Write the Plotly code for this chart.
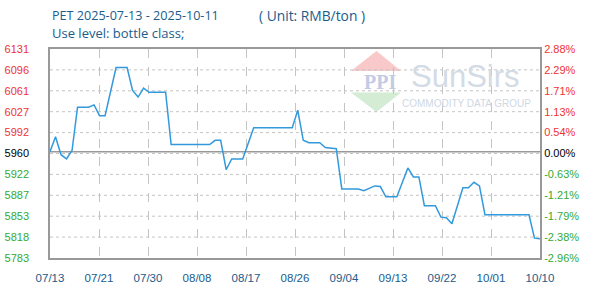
import plotly.graph_objects as go
import pandas as pd
import numpy as np

# ---- data ----
dates = ["2025-07-13", "2025-07-14", "2025-07-15", "2025-07-16", "2025-07-17", "2025-07-18",
         "2025-07-20", "2025-07-21", "2025-07-22", "2025-07-23", "2025-07-25", "2025-07-27",
         "2025-07-28", "2025-07-29", "2025-07-30", "2025-07-31", "2025-08-03", "2025-08-04",
         "2025-08-11", "2025-08-12", "2025-08-13", "2025-08-14", "2025-08-15", "2025-08-17",
         "2025-08-19", "2025-08-26", "2025-08-27", "2025-08-28", "2025-08-29", "2025-08-31",
         "2025-09-01", "2025-09-03", "2025-09-04", "2025-09-07", "2025-09-08", "2025-09-10",
         "2025-09-11", "2025-09-12", "2025-09-14", "2025-09-16", "2025-09-17", "2025-09-18",
         "2025-09-19", "2025-09-21", "2025-09-22", "2025-09-23", "2025-09-24", "2025-09-26",
         "2025-09-27", "2025-09-28", "2025-09-29", "2025-09-30", "2025-10-08", "2025-10-09",
         "2025-10-10"]
prices = [5960, 5985, 5955, 5948, 5962, 6034,
          6034, 6038, 6020, 6020, 6100, 6100,
          6062, 6051, 6066, 6059, 6059, 5972,
          5972, 5979, 5979, 5930, 5948, 5948,
          6000, 6000, 6029, 5979, 5975, 5975,
          5967, 5965, 5898, 5898, 5895, 5903,
          5902, 5885, 5885, 5933, 5918, 5918,
          5870, 5870, 5851, 5850, 5840, 5900,
          5900, 5909, 5903, 5855, 5855, 5816,
          5815]

base_value = 5960
y_min, y_max = 5783, 6131
left_labels = ["5783", "5818", "5853", "5887", "5922", "5960", "5992", "6027", "6061", "6096", "6131"]
right_labels = ["-2.96%", "-2.38%", "-1.79%", "-1.21%", "-0.63%", "0.00%", "0.54%", "1.13%", "1.71%", "2.29%", "2.88%"]
x_labels = ["07/13", "07/21", "07/30", "08/08", "08/17", "08/26", "09/04", "09/13", "09/22", "10/01", "10/10"]
x_start, x_end = "2025-07-13", "2025-10-10"

title_main = "PET 2025-07-13 - 2025-10-11"
title_unit = "( Unit: RMB/ton )"
title2 = "Use level: bottle class;"

RED = "#ee3333"
GREEN = "#33aa33"
BLACK = "#000000"
BLUE_TXT = "#1a5c8c"
GRID = "#c4c4c4"
FRAME = "#999999"
TICKFONT = "Liberation Sans"


def colored(labels):
    out = []
    n = len(labels)
    mid = n // 2
    for i, t in enumerate(labels):
        c = GREEN if i < mid else (BLACK if i == mid else RED)
        out.append(f"<span style='color:{c}'>{t}</span>")
    return out


yticks = list(np.linspace(y_min, y_max, len(left_labels)))
t0 = pd.Timestamp(x_start)
t1 = pd.Timestamp(x_end)
span = (t1 - t0) / (len(x_labels) - 1)
xticks = [t0 + span * k for k in range(len(x_labels))]

fig = go.Figure()
# horizontal dashed grid lines as traces
for yv in yticks[1:-1]:
    fig.add_trace(go.Scatter(x=[t0, t1], y=[yv, yv], mode="lines",
                             line=dict(color=GRID, width=1, dash="3px,3px"),
                             hoverinfo="skip", showlegend=False))
# base line
fig.add_trace(go.Scatter(x=[t0, t1], y=[base_value, base_value], mode="lines",
                         line=dict(color=FRAME, width=1.5), hoverinfo="skip", showlegend=False))
fig.add_trace(go.Scatter(x=dates, y=prices, mode="lines",
                         line=dict(color="#3399dd", width=1.5), hoverinfo="skip",
                         showlegend=False))
fig.add_trace(go.Scatter(x=[dates[0]], y=[prices[0]], yaxis="y2", mode="lines",
                         line=dict(width=0), showlegend=False, hoverinfo="skip"))

W, H = 591, 287
L, R, T, B = 50, 51, 49, 29
pw, ph = W - L - R, H - T - B


def px(xp):
    return (xp - L) / pw


def py(yp):
    return (H - B - yp) / ph


shapes = []
# watermark: pink triangle, green triangle
shapes.append(dict(type="path", xref="paper", yref="paper", layer="below",
                   path=f"M {px(376.5)},{py(51)} L {px(351)},{py(71)} L {px(401)},{py(71)} Z",
                   fillcolor="#f9c8c8", line=dict(width=0)))
shapes.append(dict(type="path", xref="paper", yref="paper", layer="below",
                   path=f"M {px(351)},{py(92.5)} L {px(401)},{py(92.5)} L {px(376.5)},{py(112)} Z",
                   fillcolor="#d3ecd3", line=dict(width=0)))

annotations = [
    dict(text=title_main, xref="paper", yref="paper", x=0, y=py(15), xanchor="left", yanchor="middle",
         showarrow=False, font=dict(family="Open Sans", size=12.6, color=BLUE_TXT)),
    dict(text=title_unit, xref="paper", yref="paper", x=px(257), y=py(15), xanchor="left",
         yanchor="middle", showarrow=False,
         font=dict(family="Open Sans", size=13.8, color=BLUE_TXT)),
    dict(text=title2, xref="paper", yref="paper", x=0, y=py(33), xanchor="left", yanchor="middle",
         showarrow=False, font=dict(family="Open Sans", size=13, color=BLUE_TXT)),
    dict(text="<b>PPI</b>", xref="paper", yref="paper", x=px(380), y=py(82), xanchor="center",
         yanchor="middle", showarrow=False,
         font=dict(family="Liberation Serif", size=20, color="#c3cbe4")),
    dict(text="SunSirs", xref="paper", yref="paper", x=px(465), y=py(76), xanchor="center",
         yanchor="middle", showarrow=False,
         font=dict(family="Liberation Sans", size=31, color="#d3dbe5")),
    dict(text="COMMODITY DATA GROUP", xref="paper", yref="paper", x=px(466), y=py(103.5),
         xanchor="center", yanchor="middle", showarrow=False,
         font=dict(family="Liberation Sans", size=10, color="#d0d7e1")),
]

fig.update_layout(
    width=W, height=H,
    margin=dict(l=L, r=R, t=T, b=B, pad=0, autoexpand=False),
    paper_bgcolor="white", plot_bgcolor="white",
    shapes=shapes, annotations=annotations,
    showlegend=False,
    xaxis=dict(type="date", range=[t0, t1], tickvals=xticks, ticktext=x_labels,
               showgrid=True, gridcolor=GRID, griddash="dash", gridwidth=1,
               automargin=False, showline=True, linecolor=FRAME, linewidth=1.5, mirror=True,
               zeroline=False, ticks="outside", ticklen=8, tickcolor="rgba(0,0,0,0)",
               tickfont=dict(family=TICKFONT, size=11.5, color=BLUE_TXT)),
    yaxis=dict(range=[y_min, y_max], tickvals=yticks, ticktext=colored(left_labels),
               showgrid=False, automargin=False,
               showline=True, linecolor=FRAME, linewidth=1.5, mirror=True,
               zeroline=False, ticks="outside", ticklen=17, tickcolor="rgba(0,0,0,0)",
               tickfont=dict(family=TICKFONT, size=11, color=BLACK)),
    yaxis2=dict(range=[y_min, y_max], tickvals=yticks, ticktext=colored(right_labels),
                overlaying="y", side="right", showgrid=False, zeroline=False, automargin=False,
                showline=False, ticks="outside", ticklen=1, tickcolor="rgba(0,0,0,0)",
                tickfont=dict(family=TICKFONT, size=11, color=BLACK)),
)

fig.write_html("out.html")
